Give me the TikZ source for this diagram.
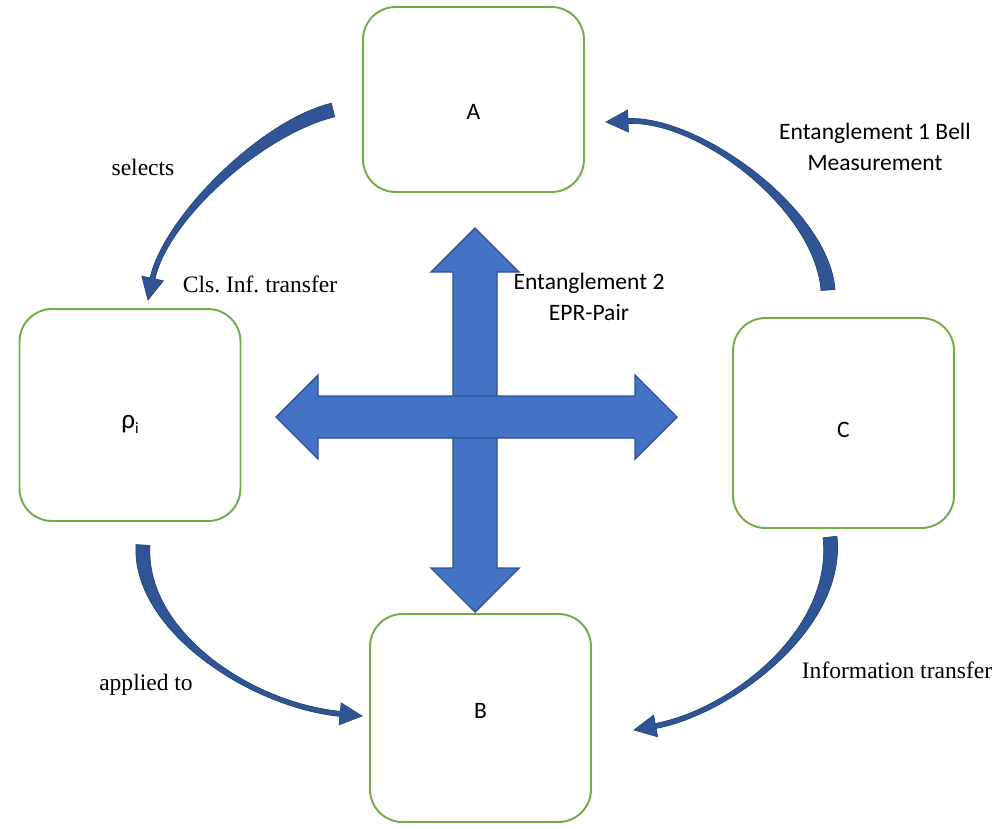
\documentclass[tikz,border=0pt]{standalone}
\usepackage{fontspec}
\setmainfont{Liberation Serif}
\newfontfamily\calibri{Carlito}
\usetikzlibrary{calc}
\frenchspacing
\definecolor{boxgreen}{RGB}{112,173,71}
\definecolor{crossblue}{RGB}{68,114,196}
\definecolor{crossline}{RGB}{47,82,143}
\definecolor{bentblue}{RGB}{47,85,151}
\tikzset{
  station/.style={draw=boxgreen, line width=1.1pt, rounded corners=0.65cm, minimum width=4.42cm, minimum height=3.7cm, font=\calibri\fontsize{13.4}{16}\selectfont},
  drop/.style={text height=#1, text depth=0pt},
  note/.style={inner sep=0pt, font=\fontsize{13.4}{16}\selectfont},
  cnote/.style={inner sep=0pt, align=center, font=\calibri\fontsize{13.4}{18}\selectfont},
  bent/.style={fill=bentblue, draw=bentblue!80!black, line width=0.4pt},
  cross/.style={fill=crossblue, draw=crossline, line width=0.8pt}
}
\newcommand{\bentarrow}[4]{%
  \coordinate (ba-b) at ($(#4)!0.44cm!#3$);
  \coordinate (ba-sl) at ($(#1)!0.14cm!90:#2$);
  \coordinate (ba-sr) at ($(#1)!0.14cm!-90:#2$);
  \coordinate (ba-bl) at ($(ba-b)!0.05cm!90:(#4)$);
  \coordinate (ba-br) at ($(ba-b)!0.05cm!-90:(#4)$);
  \coordinate (ba-hl) at ($(ba-b)!0.22cm!90:(#4)$);
  \coordinate (ba-hr) at ($(ba-b)!0.22cm!-90:(#4)$);
  \filldraw[bent] (ba-sl) .. controls ($#2+(ba-sl)-(#1)$) and ($#3+(ba-bl)-(ba-b)$) .. (ba-bl)
    -- (ba-hl) -- (#4) -- (ba-hr) -- (ba-br)
    .. controls ($#3+(ba-br)-(ba-b)$) and ($#2+(ba-sr)-(#1)$) .. (ba-sr) -- cycle;
}
\begin{document}
\begin{tikzpicture}[x=0.02cm, y=-0.02cm]
    \useasboundingbox (0,0) rectangle (1000,828);
    \node[station, drop=0.8cm] (A) at (473.5,99.5) {A};
    \node[station, minimum height=4.24cm, drop=0.53cm] (rho) at (130,415) {\fontsize{15.5}{18}\selectfont ρ\raisebox{-0.4ex}{\fontsize{9}{10}\selectfont i}};
    \node[station, minimum height=4.2cm, drop=0.58cm] (C) at (843.5,423) {C};
    \node[station, minimum height=4.16cm, drop=0pt] (B) at (480.5,718) {B};

    \draw[cross] (475,228) -- (519,272) -- (497,272) -- (497,568) -- (519,568) -- (475,612) -- (431,568) -- (453,568) -- (453,272) -- (431,272) -- cycle;
    \draw[cross] (276,417) -- (318,375) -- (318,396) -- (635,396) -- (635,375) -- (677,417) -- (635,459) -- (635,438) -- (318,438) -- (318,459) -- cycle;

    \coordinate (selFrom) at (333,110);
    \coordinate (selTo) at (148,300);
    \coordinate (bellFrom) at (828,290);
    \coordinate (bellTo) at (606,122);
    \coordinate (appFrom) at (143,545);
    \coordinate (appTo) at (362,716);
    \coordinate (infFrom) at (830,537);
    \coordinate (infTo) at (634,730);

    \bentarrow{selFrom}{(260,128)}{(165,220)}{selTo}
    \bentarrow{bellFrom}{(822,210)}{(700,118)}{bellTo}
    \bentarrow{appFrom}{(138,630)}{(250,705)}{appTo}
    \bentarrow{infFrom}{(840,630)}{(730,712)}{infTo}

    \node[note] (sel) at (143,167) {selects};
    \node[note] (cls) at (260,284) {Cls. Inf. transfer};
    \node[cnote] (bell) at (875,147) {Entanglement 1 Bell\\Measurement};
    \node[cnote] (epr) at (589,297) {Entanglement 2\\EPR-Pair};
    \node[note] (app) at (146,685) {applied to};
    \node[note] (inf) at (897,670) {Information transfer};
\end{tikzpicture}
\end{document}
